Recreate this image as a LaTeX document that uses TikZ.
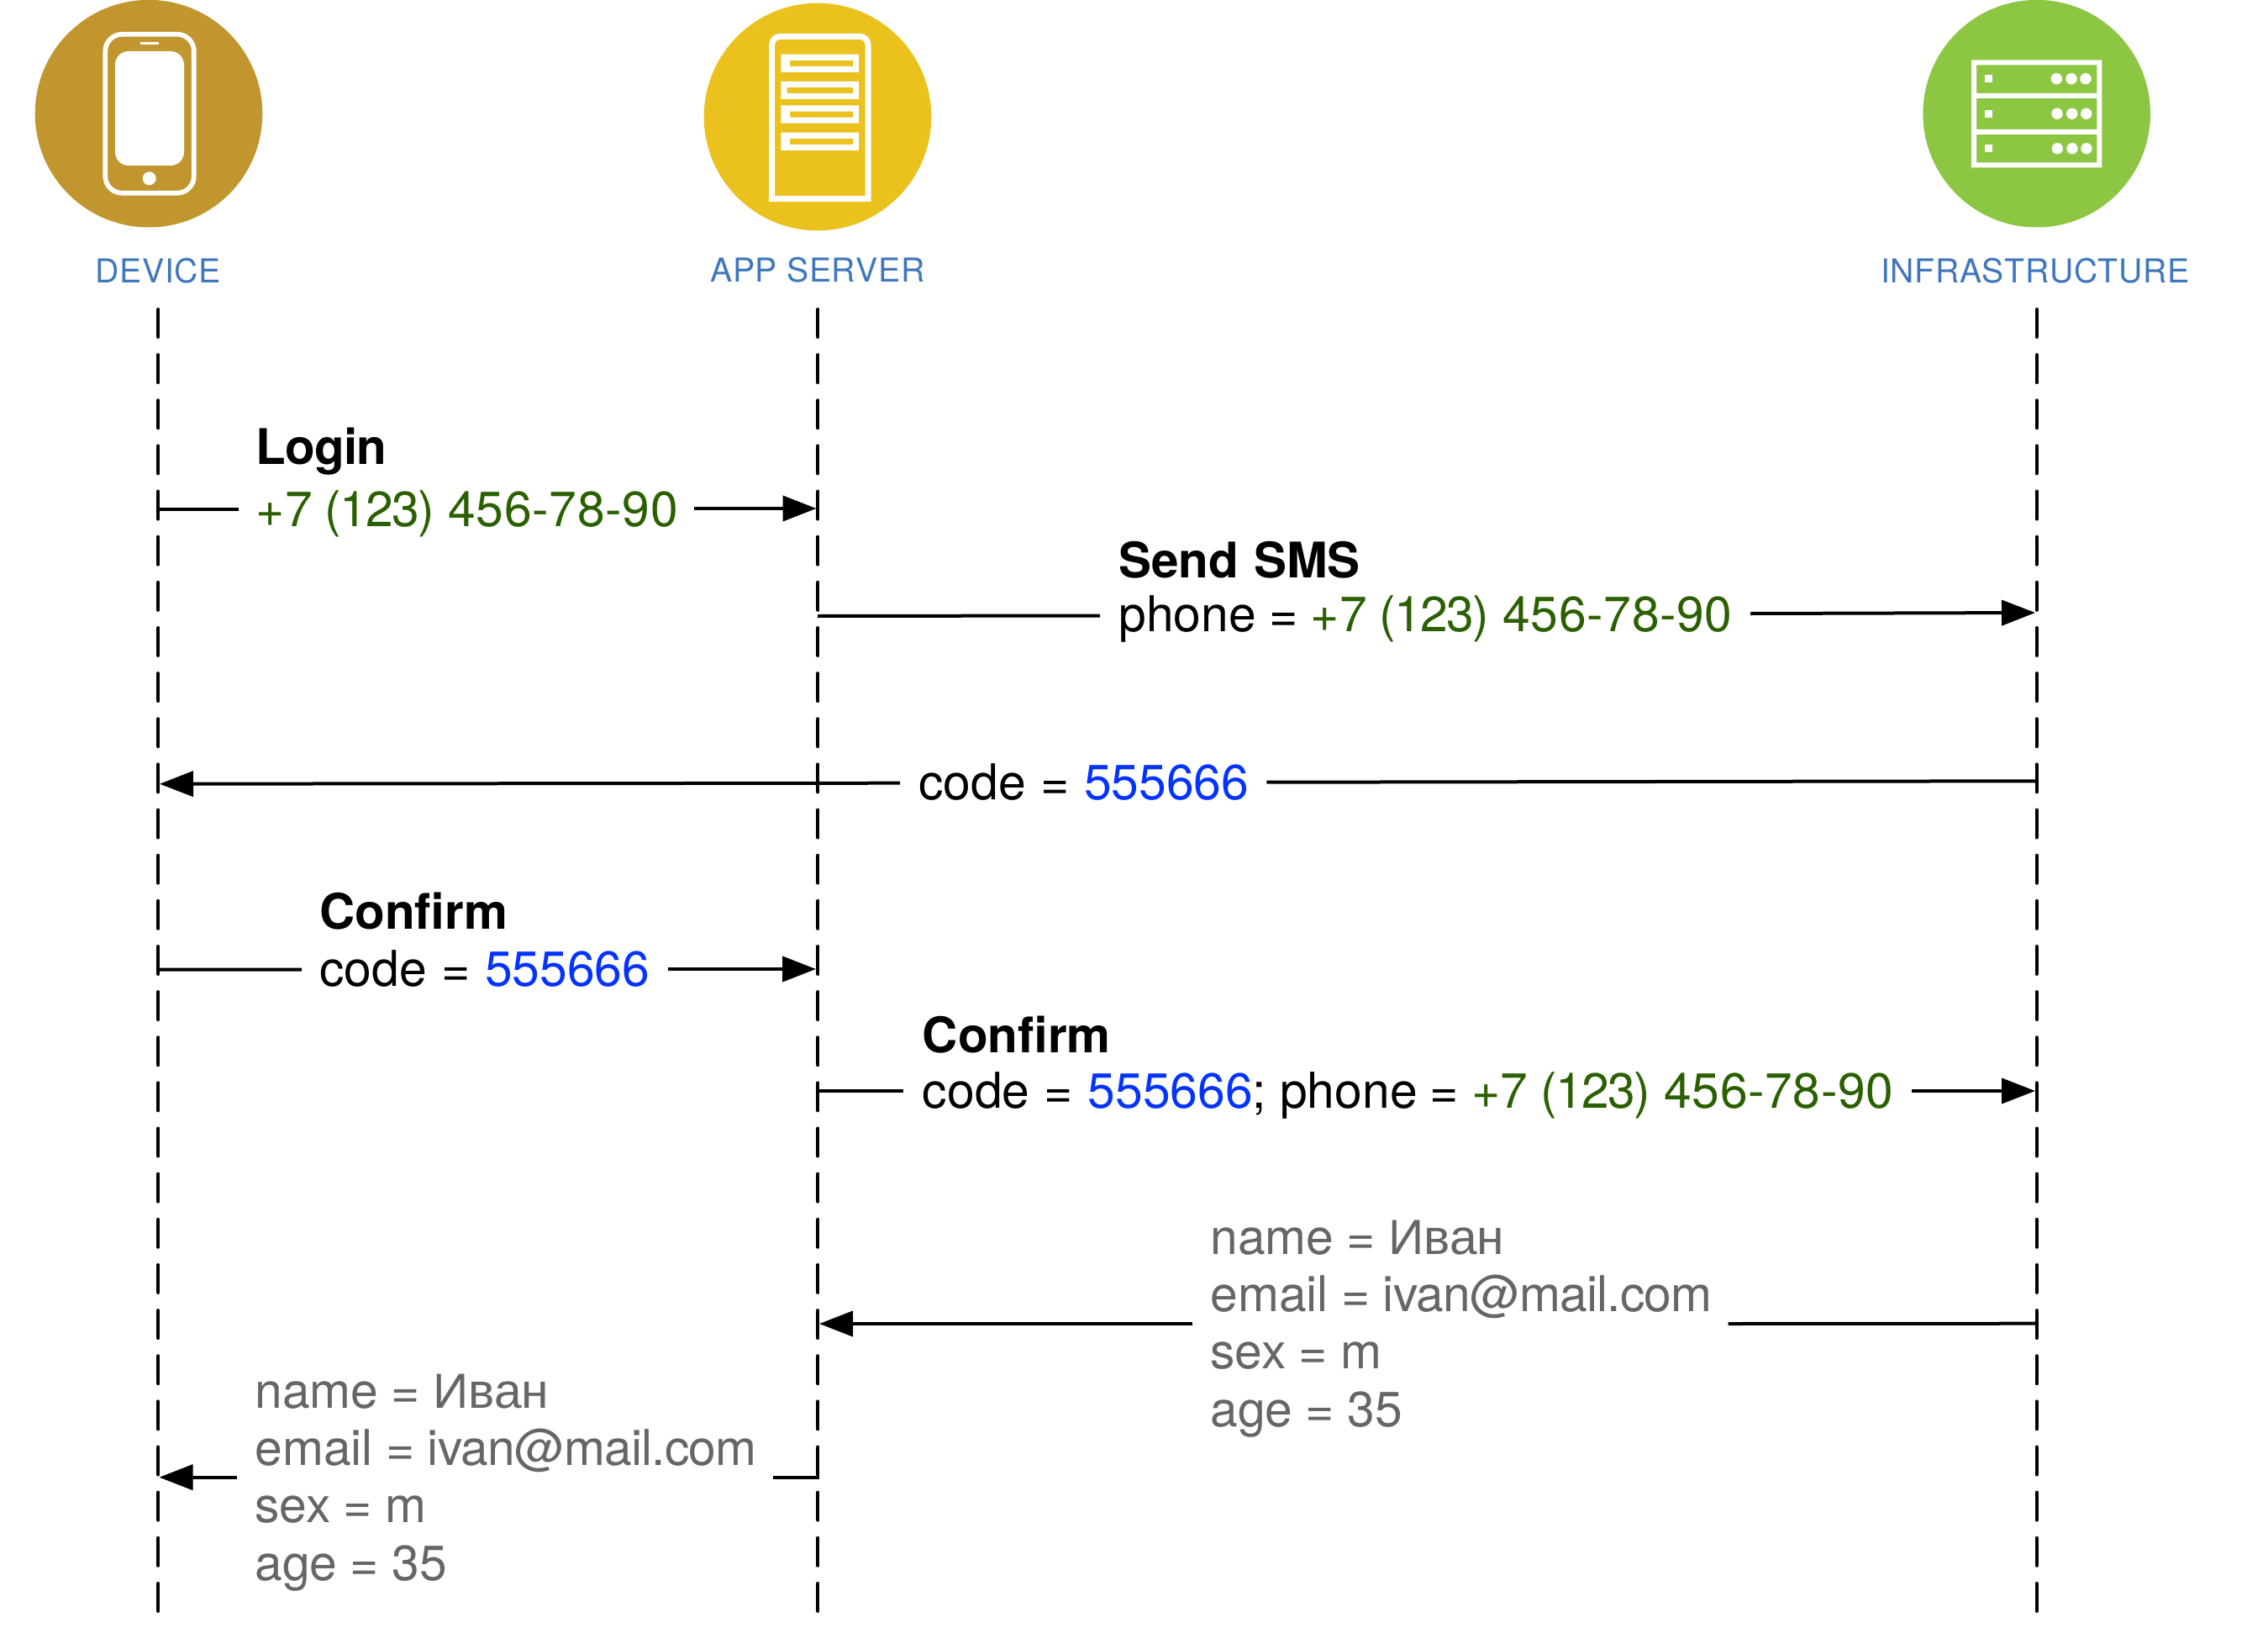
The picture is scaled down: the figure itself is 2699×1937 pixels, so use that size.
\documentclass[tikz,border=0pt]{standalone}
\usepackage{fontspec}
\setmainfont[WordSpace=0.8]{TeX Gyre Heros}
\newfontfamily\cyr[WordSpace=0.8]{Liberation Sans}
\newfontfamily\labelfont[Kerning=Off,LetterSpace=1.5]{TeX Gyre Heros}
\usetikzlibrary{arrows.meta}
\definecolor{gold}{HTML}{C2962E}
\definecolor{amber}{HTML}{EBC11D}
\definecolor{leaf}{HTML}{8DC642}
\definecolor{labelblue}{HTML}{4077BC}
\definecolor{phonegreen}{HTML}{2A6000}
\definecolor{codeblue}{HTML}{0433FF}
\definecolor{datagrey}{HTML}{666666}
\newcommand{\phonenum}{\textcolor{phonegreen}{+7\hspace{.85pt} {\addfontfeature{LetterSpace=-3}(123)}\hspace{1.85pt} {\addfontfeature{LetterSpace=1.1}456-78-90}}}
\newcommand{\codenum}{\textcolor{codeblue}{555666}}
\newcommand{\eqq}{\hspace{2.2pt} = \hspace{2.2pt}}
\newcommand{\eqp}{\hspace{1.1pt} = \hspace{1.1pt}}
\newcommand{\mailaddr}{{\addfontfeature{LetterSpace=-1.4}ivan@mail.com}}
\tikzset{
  actor/.style={circle,inner sep=0pt,minimum size=135.3pt,draw=none},
  actorlabel/.style={anchor=base west,inner sep=0pt,text=labelblue,font=\labelfont\fontsize{19.6}{23}\selectfont},
  lifeline/.style={line width=2pt,line cap=round,dash pattern=on 16.5pt off 10.57pt},
  msg/.style={line width=2pt,draw=black},
  msgarrow/.style={msg,-{Triangle[length=20pt,width=15pt]}},
  txt/.style={anchor=base west,inner sep=0pt,font=\fontsize{29.4}{34}\selectfont},
  title/.style={txt,font=\fontsize{29.2}{34}\selectfont\bfseries},
  data/.style={txt,text=datagrey},
  iconline/.style={draw=white,fill=none}
}
\begin{document}
\begin{tikzpicture}[x=0.5pt,y=-0.5pt]
\useasboundingbox (0,0) rectangle (2699,1937);
% actors
\node[actor,fill=gold]  (dev)   at (177,135.2) {};
\node[actor,fill=amber] (app)   at (973,139) {};
\node[actor,fill=leaf]  (infra) at (2423.7,135.2) {};
% phone icon
\draw[iconline,line width=2.85pt,rounded corners=10pt] (125.3,40.8) rectangle (230.8,229.7);
\fill[white,rounded corners=8pt] (137,61) rectangle (219,197);
\fill[white] (167,50) rectangle (189,53);
\fill[white] (177.7,212.3) circle [radius=8];
% server icon
\draw[iconline,line width=3.5pt,sharp corners] (918.7,236.3) -- (918.7,53.3) [rounded corners=5pt] -- (918.7,43.3) -- (1033,43.3) [sharp corners] -- (1033,53.3) -- (1033,236.3) -- cycle;
\fill[white,even odd rule] (929.3,64.7) rectangle (1022,86) (940,72) rectangle (1015,79);
\fill[white,even odd rule] (929.3,97) rectangle (1022,118) (936.7,104) rectangle (1015,111);
\fill[white,even odd rule] (929.3,125.3) rectangle (1022,146.7) (940,132.7) rectangle (1015,139.7);
\fill[white,even odd rule] (929.3,157.7) rectangle (1022,179) (940,165) rectangle (1015,172);
% rack icon
\fill[white,even odd rule] (2346,71.3) rectangle (2501.3,199.3)
  (2352,77.3) rectangle (2495.3,111)
  (2352,117) rectangle (2495.3,154)
  (2352,160) rectangle (2495.3,193.3);
\fill[white] (2362,89.3) rectangle (2371,98.3);
\fill[white] (2362,131) rectangle (2371,140);
\fill[white] (2362,172) rectangle (2371,181);
\foreach \cx/\cy in {2447.3/93.7,2465/93.7,2482/93.7,2448/135.3,2465.7/135.3,2482.7/135.3,2448.3/176.7,2466/176.7,2483/176.7}
  \fill[white] (\cx,\cy) circle [radius=6.7];
% actor labels
\node[actorlabel] (devlabel)   at (113.5,336.7) {DEVICE};
\node[actorlabel] (applabel)   at (845,335.7) {APP SERVER};
\node[actorlabel] (infralabel) at (2238,336.7) {INFRASTRUCTURE};
% lifelines
\coordinate (devtop)   at (188.4,368);
\coordinate (devbot)   at (188.4,1918);
\coordinate (apptop)   at (973.4,368);
\coordinate (appbot)   at (973.4,1918);
\coordinate (infratop) at (2423.6,368);
\coordinate (infrabot) at (2423.6,1918);
\draw[lifeline] (devtop) -- (devbot);
\draw[lifeline] (apptop) -- (appbot);
\draw[lifeline] (infratop) -- (infrabot);
% Login
\node[title] (t1a) at (304.5,552) {\addfontfeature{LetterSpace=-1.4}Login};
\node[txt]   (t1b) at (304.5,626) {\phonenum};
\coordinate (m1s) at (188,605.6); \coordinate (m1l) at (284,605.6);
\coordinate (m1r) at (826,605);   \coordinate (m1e) at (971.5,605);
\draw[msg] (m1s) -- (m1l);
\draw[msgarrow] (m1r) -- (m1e);
% Send SMS
\node[title] (t2a) at (1331,687.7) {Send\hspace{2.5pt} SMS};
\node[txt]   (t2b) at (1331,751.7) {phone\eqp\phonenum};
\coordinate (m2s) at (973,733);  \coordinate (m2l) at (1309,732.5);
\coordinate (m2r) at (2083,730); \coordinate (m2e) at (2422,729);
\draw[msg] (m2s) -- (m2l);
\draw[msgarrow] (m2r) -- (m2e);
% code
\node[txt] (t3) at (1093,951) {code\eqq\codenum};
\coordinate (m3s) at (2423,929.3); \coordinate (m3r) at (1507.4,930.7);
\coordinate (m3l) at (1071,931.7); \coordinate (m3e) at (190,932.7);
\draw[msg] (m3s) -- (m3r);
\draw[msgarrow] (m3l) -- (m3e);
% Confirm 1
\node[title] (t4a) at (380,1105.7) {Confirm};
\node[txt]   (t4b) at (380,1173.7) {code\eqq\codenum};
\coordinate (m4s) at (188,1153.7); \coordinate (m4l) at (359,1153.5);
\coordinate (m4r) at (794.5,1153); \coordinate (m4e) at (971,1153);
\draw[msg] (m4s) -- (m4l);
\draw[msgarrow] (m4r) -- (m4e);
% Confirm 2
\node[title] (t5a) at (1097.5,1252.7) {Confirm};
\node[txt]   (t5b) at (1097.5,1318.7) {code\eqq\codenum;\hspace{1.5pt} phone\eqp\phonenum};
\coordinate (m5s) at (973,1298);  \coordinate (m5l) at (1075,1298);
\coordinate (m5r) at (2275,1298); \coordinate (m5e) at (2422,1298);
\draw[msg] (m5s) -- (m5l);
\draw[msgarrow] (m5r) -- (m5e);
% user data, infrastructure to app server
\node[data] (t6a) at (1440,1492.3) {name\eqp{\cyr Иван}};
\node[data] (t6b) at (1440,1560.7) {email\eqp\mailaddr};
\node[data] (t6c) at (1440,1628.7) {sex\eqp m};
\node[data] (t6d) at (1440,1697.7) {age\eqp 35};
\coordinate (m6s) at (2423,1574.7); \coordinate (m6r) at (2056.7,1575);
\coordinate (m6l) at (1418.7,1575); \coordinate (m6e) at (975,1575);
\draw[msg] (m6s) -- (m6r);
\draw[msgarrow] (m6l) -- (m6e);
% user data, app server to device
\node[data] (t7a) at (303,1675.3) {name\eqp{\cyr Иван}};
\node[data] (t7b) at (303,1743.7) {email\eqp\mailaddr};
\node[data] (t7c) at (303,1811.7) {sex\eqp m};
\node[data] (t7d) at (303,1880.7) {age\eqp 35};
\coordinate (m7s) at (975,1757.7); \coordinate (m7r) at (920,1757.7);
\coordinate (m7l) at (282,1757.7); \coordinate (m7e) at (189.5,1757.7);
\draw[msg] (m7s) -- (m7r);
\draw[msgarrow] (m7l) -- (m7e);
\end{tikzpicture}
\end{document}
